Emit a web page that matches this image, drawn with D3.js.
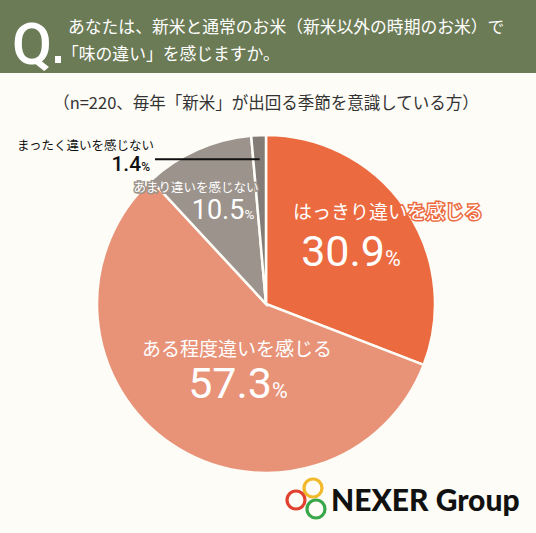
<!DOCTYPE html>
<html>
<head>
<meta charset="utf-8">
<script src="https://cdn.jsdelivr.net/npm/d3@7"></script>
<style>
  body { margin: 0; background: #fdfcf6; }
  text { font-family: "Noto Sans CJK JP", "Noto Sans", sans-serif; }
</style>
</head>
<body>
<div id="chart"></div>
<script>
// data
var categories = ["はっきり違いを感じる", "ある程度違いを感じる", "あまり違いを感じない", "まったく違いを感じない"];
var values = [30.9, 57.3, 10.5, 1.4];
var labels = ["30.9", "57.3", "10.5", "1.4"];
var colors = ["#ec6a3f", "#e89278", "#9b938c", "#837c76"];

var width = 536, height = 533;

var svg = d3.select("#chart")
  .append("svg")
    .attr("width", width)
    .attr("height", height);

svg.append("rect").attr("width", width).attr("height", height).attr("fill", "#fdfcf6");

// header band
svg.append("rect").attr("width", width).attr("height", 73).attr("fill", "#6b7b56");
svg.append("text")
  .attr("x", 12).attr("y", 64)
  .attr("fill", "#fff")
  .style("font-family", "Roboto, 'Noto Sans', sans-serif")
  .style("font-size", "58px").style("font-weight", 500)
  .text("Q");
svg.append("rect").attr("x", 55).attr("y", 56).attr("width", 6).attr("height", 7).attr("fill", "#fff");
svg.append("text")
  .attr("x", 68).attr("y", 33)
  .attr("fill", "#fff").style("font-size", "16.8px")
  .text("あなたは、新米と通常のお米（新米以外の時期のお米）で");
svg.append("text")
  .attr("x", 62).attr("y", 60)
  .attr("fill", "#fff").style("font-size", "16.8px")
  .text("「味の違い」を感じますか。");

// subtitle
svg.append("text")
  .attr("x", 266).attr("y", 109)
  .attr("text-anchor", "middle")
  .attr("fill", "#333").style("font-size", "16.5px")
  .text("（n=220、毎年「新米」が出回る季節を意識している方）");

// pie
var cx = 266, cy = 304, r = 169;
var pie = d3.pie().sort(null).value(function(d) { return d; });
var arc = d3.arc().innerRadius(0).outerRadius(r);
var arcs = pie(values);

var g = svg.append("g").attr("transform", "translate(" + cx + "," + cy + ")");
g.selectAll("path")
  .data(arcs)
  .enter()
  .append("path")
    .attr("d", arc)
    .attr("fill", function(d, i) { return colors[i]; })
    .attr("stroke", "#fdfcf6")
    .attr("stroke-width", 2.5);

// inside labels: category line and percentage, with outline colour
var lab = [
  {cat: [388, 219, 19], pct: [351, 266, 43], outline: colors[0]},
  {cat: [237, 356, 19], pct: [238, 398, 43], outline: colors[1]},
  {cat: [196, 192, 12.5], pct: [223, 219, 27], outline: colors[2]}
];
lab.forEach(function(p, i) {
  svg.append("text")
    .attr("x", p.cat[0]).attr("y", p.cat[1])
    .attr("text-anchor", "middle")
    .attr("fill", "#fff")
    .attr("stroke", p.outline).attr("stroke-width", 3)
    .style("paint-order", "stroke")
    .style("font-size", p.cat[2] + "px")
    .text(categories[i]);
  var t = svg.append("text")
    .attr("x", p.pct[0]).attr("y", p.pct[1])
    .attr("text-anchor", "middle")
    .attr("fill", "#fff")
    .style("font-family", "Roboto, 'Noto Sans', sans-serif")
    .style("font-size", p.pct[2] + "px").style("font-weight", 400);
  t.append("tspan").text(labels[i]);
  t.append("tspan").style("font-size", (p.pct[2] * 0.5) + "px").text("%");
});

// outside label for smallest slice
var a3 = arcs[3];
var mid = (a3.startAngle + a3.endAngle) / 2;
var lx = Math.sin(mid) * (r - 25), ly = -Math.cos(mid) * (r - 25);
svg.append("line")
  .attr("x1", 155).attr("y1", cy + ly - 1)
  .attr("x2", cx + lx).attr("y2", cy + ly - 1)
  .attr("stroke", "#111").attr("stroke-width", 2);
svg.append("text")
  .attr("x", 17).attr("y", 150)
  .attr("fill", "#111").style("font-size", "12.5px")
  .text(categories[3]);
var t3 = svg.append("text")
  .attr("x", 150).attr("y", 171)
  .attr("text-anchor", "end")
  .attr("fill", "#111")
  .style("font-family", "Roboto, 'Noto Sans', sans-serif")
  .style("font-size", "21px").style("font-weight", 500);
t3.append("tspan").text(labels[3]);
t3.append("tspan").style("font-size", "12px").text("%");

// logo
var logo = svg.append("g");
[[313, 488, "#f2b92b"], [296, 500, "#e2412f"], [316, 509, "#3aa64a"]].forEach(function(c) {
  logo.append("circle")
    .attr("cx", c[0]).attr("cy", c[1]).attr("r", 9)
    .attr("fill", "none").attr("stroke", c[2]).attr("stroke-width", 3.2);
});
svg.append("text")
  .attr("x", 331).attr("y", 511)
  .attr("fill", "#111")
  .style("font-family", "Lato, 'Noto Sans', sans-serif")
  .style("font-size", "30px").style("font-weight", 900)
  .text("NEXER Group");
</script>
</body>
</html>
